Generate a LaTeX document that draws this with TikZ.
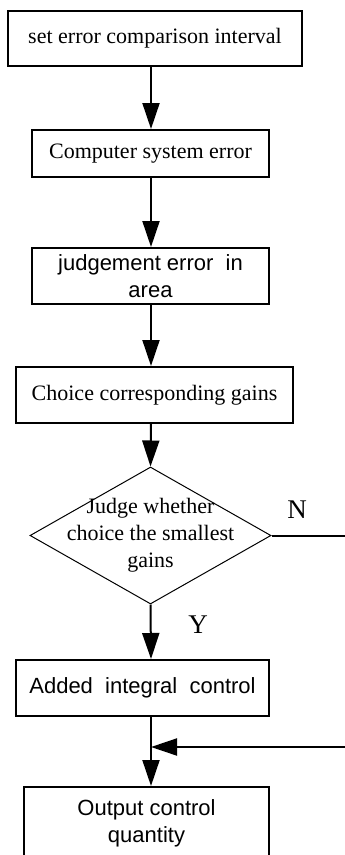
\documentclass[tikz,border=0pt]{standalone}
\usepackage{fontspec}
\setmainfont{Liberation Serif}
\newfontfamily\sansfont{Liberation Sans}
\usetikzlibrary{arrows.meta,shapes.geometric}
\tikzset{
  node-box/.style={draw,line width=2pt,inner sep=0pt,align=center},
  node-sans/.style={font=\sansfont\fontsize{22}{27}\selectfont},
  node-decision/.style={draw,line width=1pt,diamond,inner sep=0pt,
    minimum width=241pt,minimum height=137pt},
  node-label/.style={font=\fontsize{27}{27}\selectfont,inner sep=0pt},
  arrow/.style={-{Triangle[length=26pt,width=17pt]},line width=2pt},
  line/.style={line width=2pt},
}
\begin{document}
\begin{tikzpicture}[x=1pt,y=-1pt,font=\fontsize{22}{27}\selectfont]
  \useasboundingbox (0,0) rectangle (345,855);
  \coordinate (spine) at (151,0);
  \node[node-box,minimum width=294pt,minimum height=55pt] (interval) at (155,38.5)
    {set error comparison interval};
  \node[node-box,minimum width=237pt,minimum height=47pt] (syserr) at (150.5,153.5)
    {Computer system error};
  \node[node-box,node-sans,minimum width=237pt,minimum height=56pt] (area) at (150.5,276)
    {judgement error~ in\\area};
  \node[node-box,minimum width=277pt,minimum height=56pt] (gains) at (154.5,395)
    {Choice corresponding gains};
  \node[node-decision] (judge) at (150.5,535.5) {};
  \node[align=center,inner sep=0pt] (judgetext) at (judge.center)
    {Judge whether\\choice the smallest\\gains};
  \node[node-box,node-sans,minimum width=253pt,minimum height=56pt] (integral) at (142.5,688)
    {Added~ integral~ control};
  \node[node-box,node-sans,minimum width=245pt,minimum height=72pt] (output) at (146.5,823)
    {Output control\\quantity};
  \node[node-label] (lblN) at (297,510) {N};
  \node[node-label] (lblY) at (198,625) {Y};
  \coordinate (nEnd) at (345,535.5);
  \coordinate (back) at (345,747);
  \draw[arrow] (spine |- interval.south) -- (spine |- syserr.north);
  \draw[arrow] (spine |- syserr.south) -- (spine |- area.north);
  \draw[arrow] (spine |- area.south) -- (spine |- gains.north);
  \draw[arrow] (spine |- gains.south) -- (judge.north);
  \draw[arrow] (judge.south) -- (spine |- integral.north);
  \draw[arrow] (spine |- integral.south) -- (spine |- output.north);
  \draw[line] (judge.east) -- (nEnd);
  \draw[arrow] (back) -- (back -| spine);
\end{tikzpicture}
\end{document}
